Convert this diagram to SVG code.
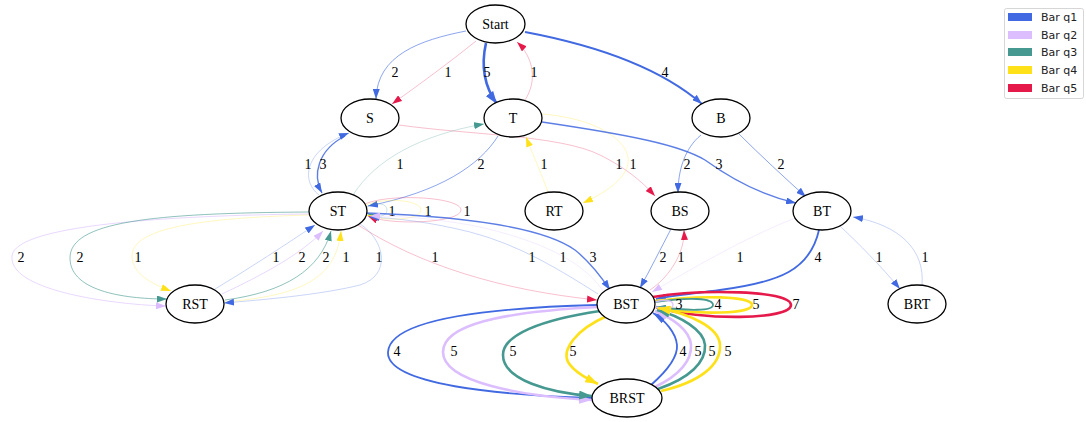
<svg xmlns="http://www.w3.org/2000/svg" width="1086" height="422" viewBox="0 0 1086 422">
<style>
.node ellipse{fill:#fff;stroke:#000;stroke-width:1.3}
.node text{font-family:"Liberation Serif","Times New Roman",serif;font-size:14px;text-anchor:middle;fill:#000}
.lbl{font-family:"Liberation Serif","Times New Roman",serif;font-size:14px;fill:#000;text-anchor:middle}
.e{fill:none}
.q1{stroke:#4169e1}.q2{stroke:#dcbeff}.q3{stroke:#469990}.q4{stroke:#ffe119}.q5{stroke:#e6194b}
.c1{stroke-width:0.8;stroke-opacity:0.35}
.c2{stroke-width:1;stroke-opacity:0.6}
.c3{stroke-width:1.4;stroke-opacity:0.85}
.c4{stroke-width:1.8;stroke-opacity:1}
.c5{stroke-width:2.6;stroke-opacity:1}
.leg{font-family:"DejaVu Sans",sans-serif;font-size:11px;fill:#222}
</style>
<defs>
<marker id="a1" viewBox="0 0 10 7" refX="10" refY="3.5" markerWidth="10" markerHeight="7" orient="auto" markerUnits="userSpaceOnUse"><path d="M0,0L10,3.5L0,7z" fill="#4169e1"/></marker>
<marker id="a2" viewBox="0 0 10 7" refX="10" refY="3.5" markerWidth="10" markerHeight="7" orient="auto" markerUnits="userSpaceOnUse"><path d="M0,0L10,3.5L0,7z" fill="#dcbeff"/></marker>
<marker id="a3" viewBox="0 0 10 7" refX="10" refY="3.5" markerWidth="10" markerHeight="7" orient="auto" markerUnits="userSpaceOnUse"><path d="M0,0L10,3.5L0,7z" fill="#469990"/></marker>
<marker id="a4" viewBox="0 0 10 7" refX="10" refY="3.5" markerWidth="10" markerHeight="7" orient="auto" markerUnits="userSpaceOnUse"><path d="M0,0L10,3.5L0,7z" fill="#ffe119"/></marker>
<marker id="a5" viewBox="0 0 10 7" refX="10" refY="3.5" markerWidth="10" markerHeight="7" orient="auto" markerUnits="userSpaceOnUse"><path d="M0,0L10,3.5L0,7z" fill="#e6194b"/></marker>
<marker id="b1" viewBox="0 0 10 7" refX="10" refY="3.5" markerWidth="13" markerHeight="9" orient="auto" markerUnits="userSpaceOnUse"><path d="M0,0L10,3.5L0,7z" fill="#4169e1"/></marker>
<marker id="b2" viewBox="0 0 10 7" refX="10" refY="3.5" markerWidth="13" markerHeight="9" orient="auto" markerUnits="userSpaceOnUse"><path d="M0,0L10,3.5L0,7z" fill="#dcbeff"/></marker>
<marker id="b3" viewBox="0 0 10 7" refX="10" refY="3.5" markerWidth="13" markerHeight="9" orient="auto" markerUnits="userSpaceOnUse"><path d="M0,0L10,3.5L0,7z" fill="#469990"/></marker>
<marker id="b4" viewBox="0 0 10 7" refX="10" refY="3.5" markerWidth="13" markerHeight="9" orient="auto" markerUnits="userSpaceOnUse"><path d="M0,0L10,3.5L0,7z" fill="#ffe119"/></marker>
<marker id="b5" viewBox="0 0 10 7" refX="10" refY="3.5" markerWidth="13" markerHeight="9" orient="auto" markerUnits="userSpaceOnUse"><path d="M0,0L10,3.5L0,7z" fill="#e6194b"/></marker>
</defs>
<rect width="1086" height="422" fill="#fff"/>
<g id="connectors">
<!-- Start -->
<path class="e q1 c2" d="M466,31 C420,40 377,55 376,99" marker-end="url(#a1)"/>
<text class="lbl" x="395" y="77">2</text>
<path class="e q5 c1" d="M476,41 C450,62 420,84 392,104" marker-end="url(#a5)"/>
<text class="lbl" x="448" y="77">1</text>
<path class="e q1 c5" d="M486,43 C481,65 484,86 497,104" marker-end="url(#b1)"/>
<text class="lbl" x="487" y="77">5</text>
<path class="e q5 c1" d="M525,100 C538,80 533,57 517,42" marker-end="url(#a5)"/>
<text class="lbl" x="534" y="77">1</text>
<path class="e q1 c4" d="M525,32 C610,48 665,72 702,104" marker-end="url(#a1)"/>
<text class="lbl" x="665" y="77">4</text>
<!-- S / T -->
<path class="e q5 c1" d="M399,125 C470,135 560,135 600,155 C630,170 645,185 655,196" marker-end="url(#a5)"/>
<text class="lbl" x="619" y="169">1</text>
<path class="e q4 c1" d="M541,114 C600,118 638,145 626,170 C618,185 600,195 583,203" marker-end="url(#a4)"/>
<text class="lbl" x="633" y="169">1</text>
<path class="e q4 c1" d="M548,192 C542,175 533,155 526,137" marker-end="url(#a4)"/>
<text class="lbl" x="544" y="169">1</text>
<path class="e q1 c3" d="M542,122 C630,135 680,145 705,160 C730,178 760,195 796,203" marker-end="url(#a1)"/>
<text class="lbl" x="719" y="169">3</text>
<path class="e q1 c2" d="M701,135 C685,148 678,170 678,193" marker-end="url(#a1)"/>
<text class="lbl" x="687" y="169">2</text>
<path class="e q1 c2" d="M739,134 C760,155 785,178 806,197" marker-end="url(#a1)"/>
<text class="lbl" x="781" y="169">2</text>
<path class="e q1 c1" d="M319,195 C300,180 305,150 349,133" marker-end="url(#a1)"/>
<text class="lbl" x="308" y="169">1</text>
<path class="e q1 c3" d="M345,136 C318,150 312,175 322,193" marker-end="url(#a1)"/>
<text class="lbl" x="323" y="169">3</text>
<path class="e q3 c1" d="M353,195 C375,160 420,135 484,124" marker-end="url(#a3)"/>
<text class="lbl" x="400" y="169">1</text>
<path class="e q1 c2" d="M498,136 C480,165 440,192 368,206" marker-end="url(#a1)"/>
<text class="lbl" x="481" y="169">2</text>
<!-- ST self loops -->
<path class="e q3 c1" d="M366,207 C378,201 387,204 387,210 C387,216 378,219 367,213" marker-end="url(#a3)"/>
<text class="lbl" x="392" y="216">1</text>
<path class="e q4 c1" d="M366,205 C385,197 421,200 421,210 C421,220 385,222 367,215" marker-end="url(#a4)"/>
<text class="lbl" x="428" y="216">1</text>
<path class="e q5 c1" d="M365,204 C390,193 461,197 461,210 C461,223 390,226 368,216" marker-end="url(#a5)"/>
<text class="lbl" x="467" y="216">1</text>
<!-- ST <-> RST -->
<path class="e q2 c2" d="M309,214 C200,215 15,222 12,256 C8,292 120,305 166,306" marker-end="url(#a2)"/>
<text class="lbl" x="21" y="262">2</text>
<path class="e q3 c2" d="M309,212 C150,213 70,222 70,258 C70,293 130,299 167,299" marker-end="url(#a3)"/>
<text class="lbl" x="80" y="262">2</text>
<path class="e q4 c1" d="M309,215 C200,218 132,228 132,256 C132,275 155,285 171,291" marker-end="url(#a4)"/>
<text class="lbl" x="138" y="262">1</text>
<path class="e q1 c1" d="M215,289 C250,268 285,245 315,225" marker-end="url(#a1)"/>
<text class="lbl" x="276" y="262">1</text>
<path class="e q2 c2" d="M222,294 C262,275 300,255 323,231" marker-end="url(#a2)"/>
<text class="lbl" x="302" y="262">2</text>
<path class="e q3 c2" d="M225,300 C285,292 320,270 331,231" marker-end="url(#a3)"/>
<text class="lbl" x="326" y="262">2</text>
<path class="e q4 c1" d="M224,302 C295,296 336,282 341,231" marker-end="url(#a4)"/>
<text class="lbl" x="346" y="262">1</text>
<path class="e q1 c1" d="M360,224 C385,240 392,275 360,285 C320,295 260,300 224,303" marker-end="url(#a1)"/>
<text class="lbl" x="379" y="262">1</text>
<!-- ST <-> BST -->
<path class="e q1 c3" d="M367,213 C450,216 540,225 575,250 C590,262 600,275 610,290" marker-end="url(#a1)"/>
<text class="lbl" x="593" y="262">3</text>
<path class="e q1 c1" d="M598,294 C560,270 520,245 470,232 C430,222 395,218 369,217" marker-end="url(#a1)"/>
<text class="lbl" x="532" y="262">1</text>
<path class="e q2 c1" d="M603,291 C580,255 520,235 470,225 C430,218 400,216 370,216" marker-end="url(#a2)"/>
<text class="lbl" x="563" y="262">1</text>
<path class="e q5 c1" d="M358,225 C420,265 500,290 597,300" marker-end="url(#a5)"/>
<text class="lbl" x="435" y="262">1</text>
<!-- BS / BT -> BST -->
<path class="e q1 c2" d="M671,229 C660,250 650,270 640,288" marker-end="url(#a1)"/>
<text class="lbl" x="663" y="262">2</text>
<path class="e q5 c1" d="M650,290 C672,275 685,250 684,230" marker-end="url(#a5)"/>
<text class="lbl" x="681" y="262">1</text>
<path class="e q2 c1" d="M795,218 C740,240 690,270 652,292" marker-end="url(#a2)"/>
<text class="lbl" x="740" y="262">1</text>
<path class="e q1 c4" d="M819,230 C810,270 780,282 720,290 C690,294 670,296 656,299" marker-end="url(#a1)"/>
<text class="lbl" x="818" y="262">4</text>
<path class="e q1 c1" d="M840,226 C860,245 880,265 900,289" marker-end="url(#a1)"/>
<text class="lbl" x="879" y="262">1</text>
<path class="e q1 c1" d="M922,285 C925,250 900,225 853,217" marker-end="url(#a1)"/>
<text class="lbl" x="925" y="262">1</text>
<!-- BST self loops -->
<path class="e q5 c5" d="M653,297 C700,289 791,290 791,305 C791,320 700,321 656,307" marker-end="url(#b5)"/>
<text class="lbl" x="796" y="309">7</text>
<path class="e q4 c5" d="M655,301 C700,295 752,296 752,305 C752,314 700,315 657,308" marker-end="url(#b4)"/>
<text class="lbl" x="756" y="309">5</text>
<path class="e q3 c4" d="M655,302 C690,297 713,298 713,305 C713,311 690,311 656,307" marker-end="url(#a3)"/>
<text class="lbl" x="718" y="309">4</text>
<path class="e q2 c3" d="M655,302 C665,299 673,300 673,305 C673,309 665,310 656,307" marker-end="url(#a2)"/>
<text class="lbl" x="679" y="309">3</text>
<!-- BST <-> BRST -->
<path class="e q1 c4" d="M597,305 C480,308 390,320 388,352 C386,385 500,395 592,398" marker-end="url(#b1)"/>
<text class="lbl" x="397" y="356">4</text>
<path class="e q2 c5" d="M598,307 C500,312 443,325 443,352 C443,382 520,396 592,400" marker-end="url(#b2)"/>
<text class="lbl" x="454" y="356">5</text>
<path class="e q3 c5" d="M600,311 C540,320 503,335 503,355 C503,380 550,393 592,396" marker-end="url(#b3)"/>
<text class="lbl" x="513" y="356">5</text>
<path class="e q4 c5" d="M607,316 C575,330 562,350 568,362 C574,372 588,379 598,384" marker-end="url(#b4)"/>
<text class="lbl" x="573" y="356">5</text>
<path class="e q1 c4" d="M651,385 C668,370 678,357 677,345 C676,333 665,320 653,313" marker-end="url(#b1)"/>
<text class="lbl" x="683" y="356">4</text>
<path class="e q2 c5" d="M655,387 C680,375 692,360 691,345 C690,330 672,318 655,311" marker-end="url(#b2)"/>
<text class="lbl" x="698" y="356">5</text>
<path class="e q3 c5" d="M658,389 C690,378 706,362 705,345 C704,330 680,316 657,310" marker-end="url(#b3)"/>
<text class="lbl" x="712" y="356">5</text>
<path class="e q4 c5" d="M661,391 C700,382 721,365 720,345 C719,327 690,314 658,308" marker-end="url(#b4)"/>
<text class="lbl" x="728" y="356">5</text>
</g>
<g id="node-Start" class="node"><ellipse cx="495.5" cy="24" rx="29.5" ry="19"/><text x="495.5" y="29">Start</text></g>
<g id="node-S" class="node"><ellipse cx="370" cy="118" rx="29" ry="19"/><text x="370" y="123">S</text></g>
<g id="node-T" class="node"><ellipse cx="513" cy="118" rx="29" ry="19"/><text x="513" y="123">T</text></g>
<g id="node-B" class="node"><ellipse cx="721" cy="118" rx="29" ry="19"/><text x="721" y="123">B</text></g>
<g id="node-ST" class="node"><ellipse cx="338" cy="211" rx="29" ry="19"/><text x="338" y="216">ST</text></g>
<g id="node-RT" class="node"><ellipse cx="554" cy="211" rx="29" ry="19"/><text x="554" y="216">RT</text></g>
<g id="node-BS" class="node"><ellipse cx="680" cy="211" rx="29" ry="19"/><text x="680" y="216">BS</text></g>
<g id="node-BT" class="node"><ellipse cx="822" cy="211" rx="29" ry="19"/><text x="822" y="216">BT</text></g>
<g id="node-RST" class="node"><ellipse cx="195" cy="304" rx="29" ry="19"/><text x="195" y="309">RST</text></g>
<g id="node-BST" class="node"><ellipse cx="626" cy="304" rx="29" ry="19"/><text x="626" y="309">BST</text></g>
<g id="node-BRT" class="node"><ellipse cx="917" cy="304" rx="29" ry="19"/><text x="917" y="309">BRT</text></g>
<g id="node-BRST" class="node"><ellipse cx="627" cy="398" rx="35" ry="19"/><text x="627" y="403">BRST</text></g>
<g id="legend">
<rect x="1004.5" y="8.5" width="79" height="90" rx="2" fill="#fff" stroke="#ccc" stroke-width="0.8"/>
<rect x="1008" y="13" width="24" height="8" fill="#4169e1"/><text class="leg" x="1041" y="21">Bar q1</text>
<rect x="1008" y="31" width="24" height="8" fill="#dcbeff"/><text class="leg" x="1041" y="39">Bar q2</text>
<rect x="1008" y="48" width="24" height="8" fill="#469990"/><text class="leg" x="1041" y="56">Bar q3</text>
<rect x="1008" y="66" width="24" height="8" fill="#ffe119"/><text class="leg" x="1041" y="74">Bar q4</text>
<rect x="1008" y="84" width="24" height="8" fill="#e6194b"/><text class="leg" x="1041" y="92">Bar q5</text>
</g>
</svg>
